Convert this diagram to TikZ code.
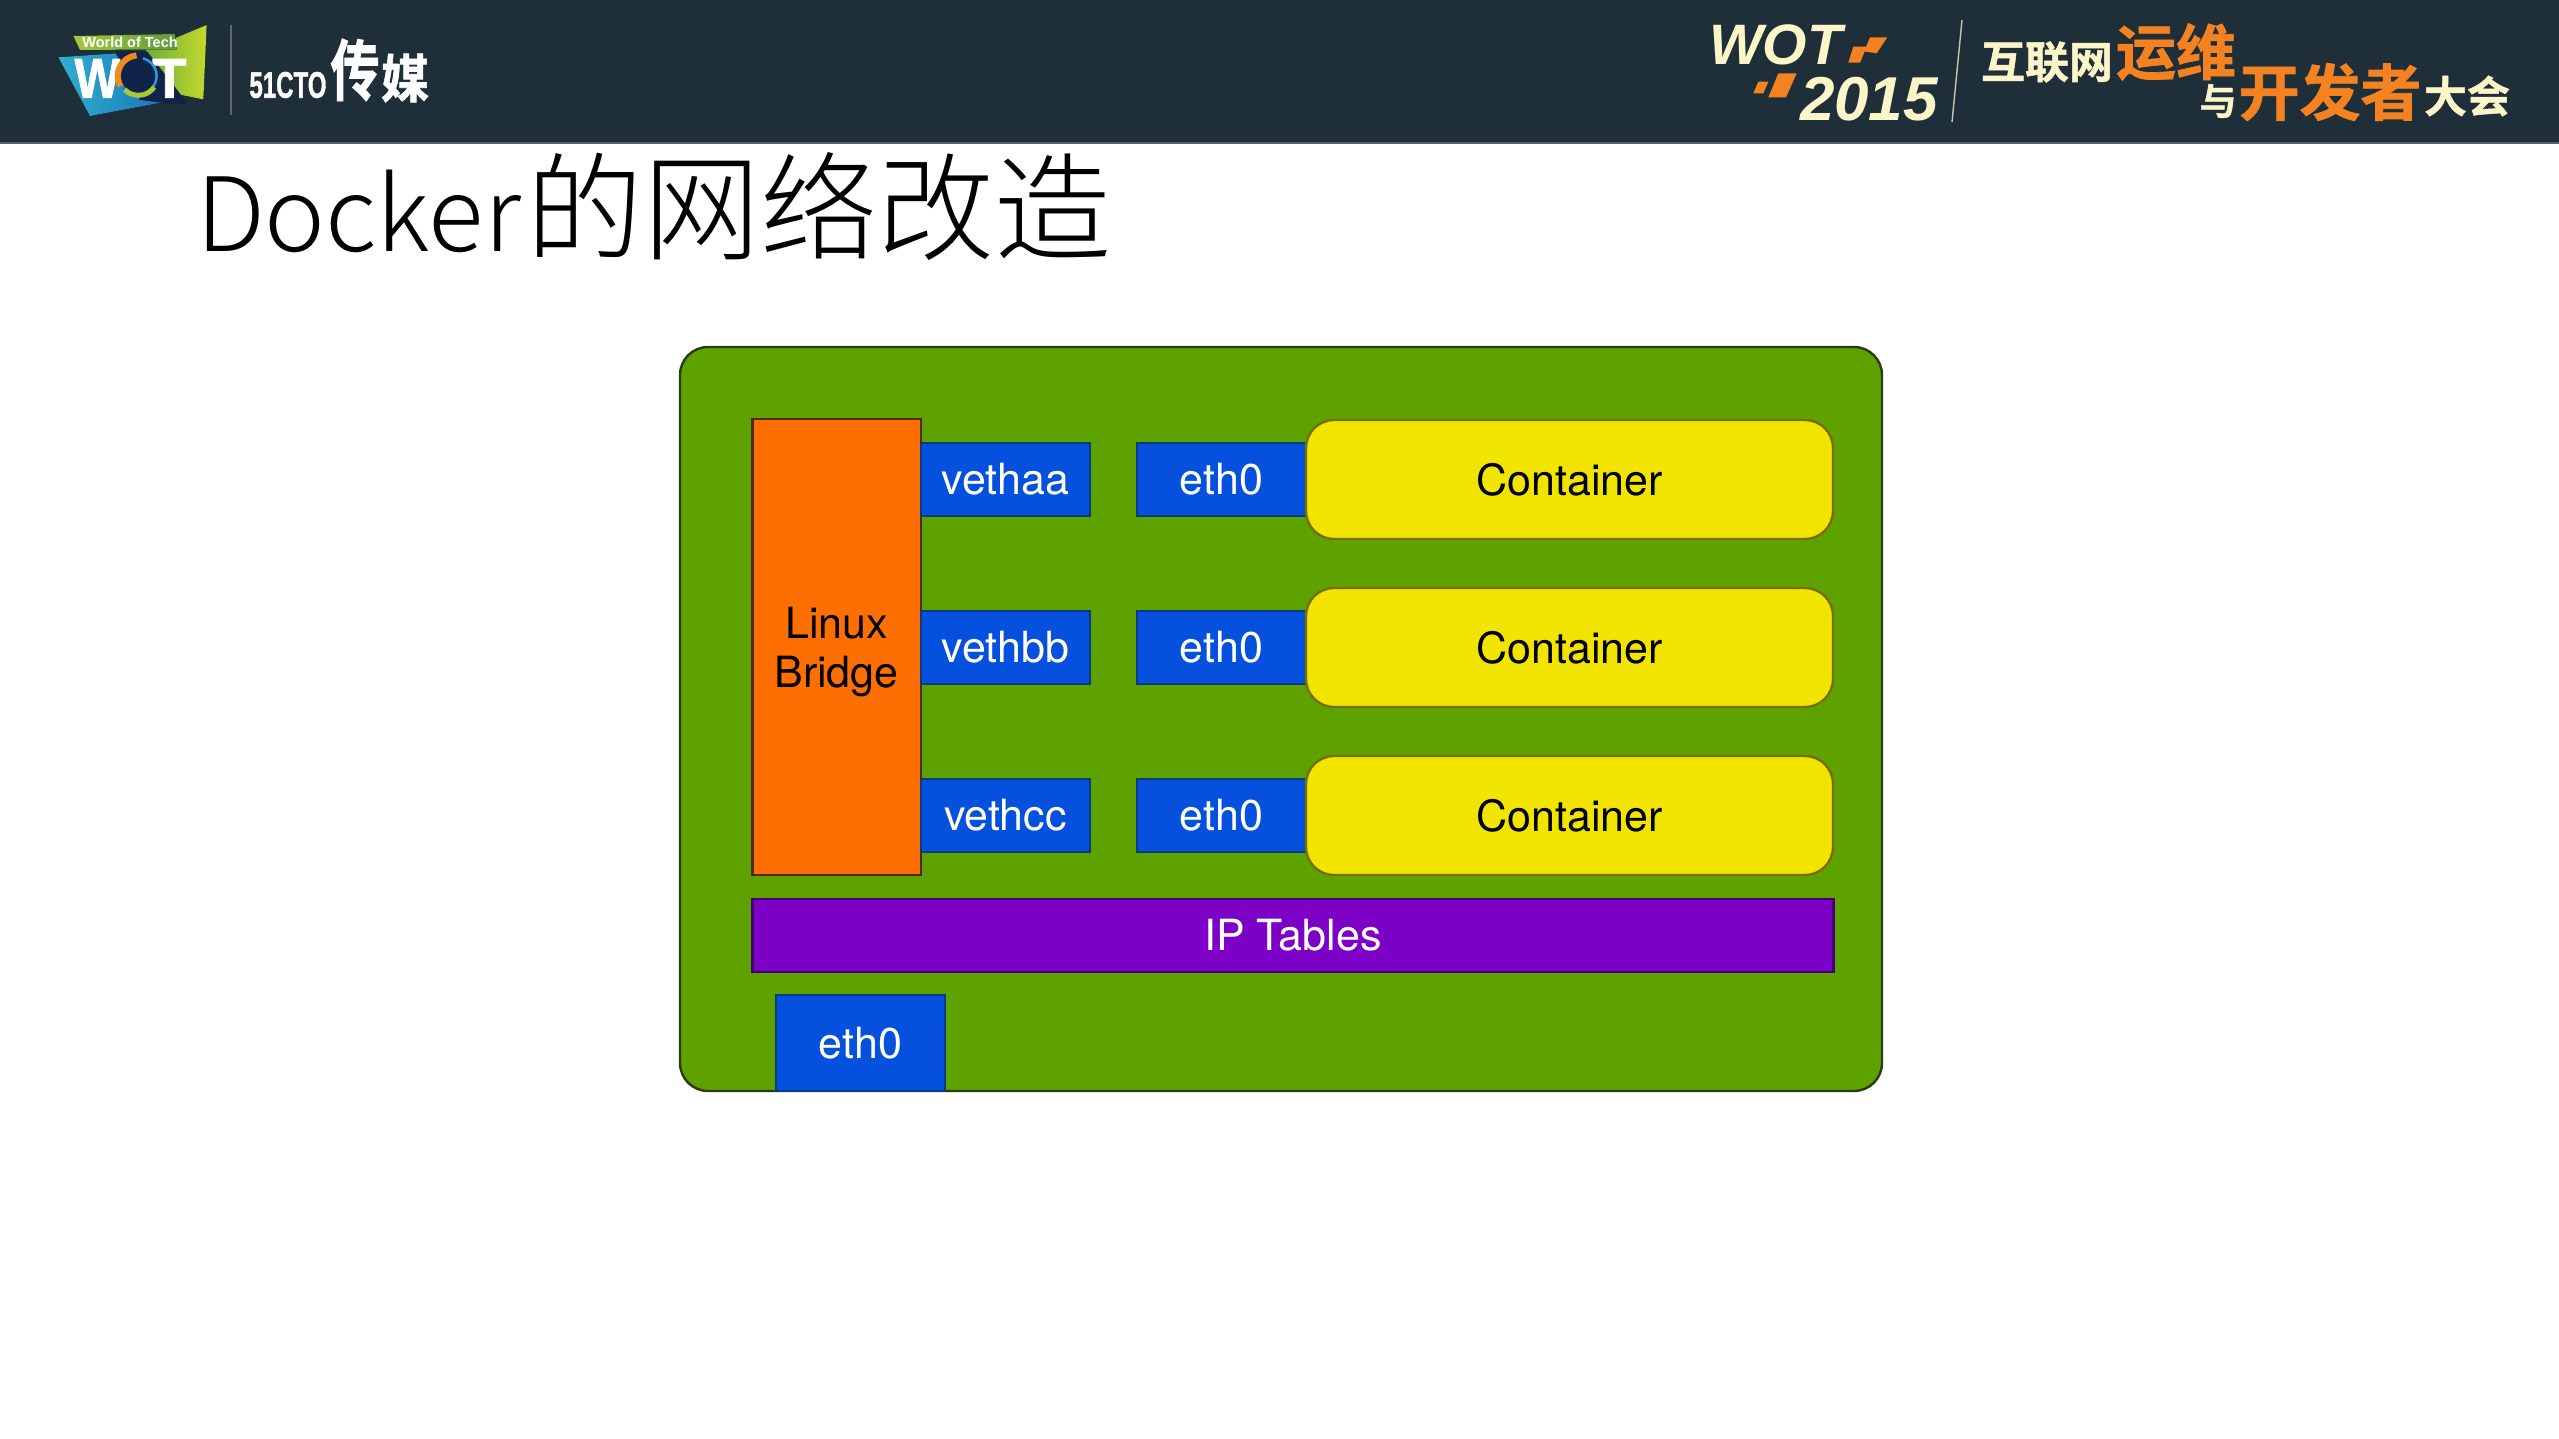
\documentclass[tikz,border=0pt]{standalone}
\usepackage{graphicx}
\usepackage{fontspec}
\setmainfont{TeX Gyre Heros}
\newfontfamily\heavy[FakeBold=1.5]{Liberation Sans Bold}
\newfontfamily\cjkheavy[FakeBold=1.2]{Noto Sans CJK SC Bold}
\newfontfamily\cjklight{Noto Sans CJK SC Light}
\newfontfamily\lib{Liberation Sans}
\definecolor{headbg}{HTML}{1F2F3A}
\definecolor{grn}{HTML}{5EA200}
\definecolor{grnb}{HTML}{2C3A10}
\definecolor{blu}{HTML}{0551DD}
\definecolor{blub}{HTML}{0A3A80}
\definecolor{org}{HTML}{FF6E00}
\definecolor{orgb}{HTML}{4F2A00}
\definecolor{yel}{HTML}{F0E400}
\definecolor{yelb}{HTML}{786E00}
\definecolor{pur}{HTML}{7D00C6}
\definecolor{purb}{HTML}{40007A}
\definecolor{cream}{HTML}{FBF5C8}
\definecolor{logoorg}{HTML}{F58220}
\definecolor{navy}{HTML}{10244A}
\definecolor{ringo}{HTML}{F08A1E}
\definecolor{ringb}{HTML}{2F9AD8}
\definecolor{ringg}{HTML}{A8C83A}
\definecolor{lgA}{HTML}{6FAE3A}
\definecolor{lgB}{HTML}{C4D82E}
\definecolor{lbA}{HTML}{2FB0CE}
\definecolor{lbB}{HTML}{1C72B8}
\definecolor{lcA}{HTML}{A6C83C}
\definecolor{lcB}{HTML}{5E9A3A}
\tikzset{
  box/.style={draw,line width=2.4pt,anchor=north west,inner sep=0pt,outer sep=0pt,align=center,
    font=\fontsize{43}{49}\selectfont},
  ifbox/.style={box,fill=blu,draw=blub,text=white,minimum width=169pt,minimum height=73pt},
  contbox/.style={box,fill=yel,draw=yelb,text=black,rounded corners=28pt,minimum width=527pt,minimum height=119pt},
  logotxt/.style={inner sep=0pt,outer sep=0pt,anchor=center},
}
\begin{document}
\begin{tikzpicture}[x=1pt,y=-1pt]
\useasboundingbox (0,0) rectangle (2559,1439);
\fill[white] (0,0) rectangle (2559,1439);
% header
\fill[headbg] (0,0) rectangle (2559,143);
\fill[gray!60!headbg] (0,142) rectangle (2559,144);
% left logo
\begin{scope}[shift={(40,10)},x=.33333pt,y=-.33333pt]
  \fill[left color=lgA,right color=lgB] (320,120) -- (500,45) -- (490,268) -- (325,235) -- cycle;
  \fill[left color=lbA,right color=lbB] (55,142) -- (228,130) -- (380,275) -- (150,318) -- cycle;
  \fill[navy] (225,125) -- (322,125) -- (412,240) -- (445,285) -- (380,280) -- (300,270) -- cycle;
  \fill[left color=lcA,right color=lcB] (100,78) -- (405,72) -- (410,118) -- (120,120) -- cycle;
  \node[logotxt,text=white,font=\lib\bfseries\fontsize{14.5}{14.5}\selectfont] (wtech) at (270,97) {World of Tech};
  \node[logotxt,text=white,font=\heavy\fontsize{56}{56}\selectfont] (wotw) at (172,205) {\scalebox{.86}[1]{W}};
  \node[logotxt,text=white,font=\heavy\fontsize{56}{56}\selectfont] (wott) at (388,205) {T};
  \fill[navy] (295,198) circle [radius=52];
  \draw[line width=6pt,ringo] (295,198) ++(265:62) arc[start angle=265,end angle=150,radius=62];
  \draw[line width=2.5pt,ringb] (295,198) ++(285:55) arc[start angle=-75,end angle=40,radius=55];
  \draw[line width=5pt,ringg] (295,198) ++(135:58) arc[start angle=135,end angle=35,radius=58];
\end{scope}
\draw[gray!70!headbg,line width=1.2pt] (231,25) -- (231,115);
\node[logotxt,text=white,font=\heavy\fontsize{37}{37}\selectfont] (cto) at (288,85) {\scalebox{.65}[1]{51CTO}};
\node[logotxt,text=white,font=\cjkheavy\fontsize{58}{58}\selectfont] (chuan) at (355,70) {\scalebox{.85}[1.15]{传}};
\node[logotxt,text=white,font=\cjkheavy\fontsize{48}{48}\selectfont] (mei) at (405,78) {\scalebox{1}[1.08]{媒}};
% right logo
\node[logotxt,text=cream,font=\lib\bfseries\itshape\fontsize{57}{57}\selectfont,anchor=base west] (wot) at (1709,65) {WOT};
\node[logotxt,text=cream,font=\lib\bfseries\itshape\fontsize{62}{62}\selectfont,anchor=base west] (yr) at (1800,121) {2015};
\begin{scope}[shift={(1700,10)},x=.33333pt,y=-.33333pt]
  \fill[logoorg] (460,110) -- (500,110) -- (480,158) -- (445,158) -- cycle;
  \fill[logoorg] (510,82) -- (562,82) -- (530,130) -- (492,124) -- cycle;
  \fill[logoorg] (175,215) -- (205,215) -- (190,250) -- (160,250) -- cycle;
  \fill[logoorg] (235,190) -- (290,190) -- (258,262) -- (205,262) -- cycle;
\end{scope}
\draw[gray!40!cream,line width=1.4pt] (1962,20) -- (1952,122);
\node[logotxt,text=cream,font=\cjkheavy\fontsize{44}{44}\selectfont] (hlw) at (2047,62) {互联网};
\node[logotxt,text=logoorg,font=\cjkheavy\fontsize{60}{60}\selectfont] (yw) at (2176,52) {运维};
\node[logotxt,text=cream,font=\cjkheavy\fontsize{37}{37}\selectfont] (yu) at (2218,101) {与};
\node[logotxt,text=logoorg,font=\cjkheavy\fontsize{61}{61}\selectfont] (kfz) at (2330,92) {开发者};
\node[logotxt,text=cream,font=\cjkheavy\fontsize{43}{43}\selectfont] (dh) at (2467,96) {大会};
% title
\node[inner sep=0pt,outer sep=0pt,anchor=base west,text=black] (title) at (196,252)
  {{\cjklight\fontsize{102.5}{102.5}\selectfont Docker}\hspace{6pt}{\cjklight\fontsize{117}{117}\selectfont 的网络改造}};
% diagram
\node[box,fill=grn,draw=grnb,rounded corners=28pt,minimum width=1202pt,minimum height=744pt] (host) at (680,347) {};
\node[box,fill=org,draw=orgb,text=black,minimum width=168.5pt,minimum height=456pt] (bridge) at (752.5,419) {};
\node[inner sep=0pt,align=center,text=black,font=\fontsize{43}{49}\selectfont] (bridgetxt) at (836.5,652) {Linux\\Bridge};
\node[ifbox] (vaa) at (921,443) {vethaa};
\node[ifbox] (vbb) at (921,611) {vethbb};
\node[ifbox] (vcc) at (921,779) {vethcc};
\node[ifbox] (ea) at (1137,443) {eth0};
\node[ifbox] (eb) at (1137,611) {eth0};
\node[ifbox] (ec) at (1137,779) {eth0};
\node[contbox] (ca) at (1306,420) {Container};
\node[contbox] (cb) at (1306,588) {Container};
\node[contbox] (cc) at (1306,756) {Container};
\node[box,fill=pur,draw=purb,text=white,minimum width=1081pt,minimum height=73pt] (ipt) at (752.5,899) {IP Tables};
\node[ifbox,minimum height=96pt] (ehost) at (776,995) {eth0};
\end{tikzpicture}
\end{document}
